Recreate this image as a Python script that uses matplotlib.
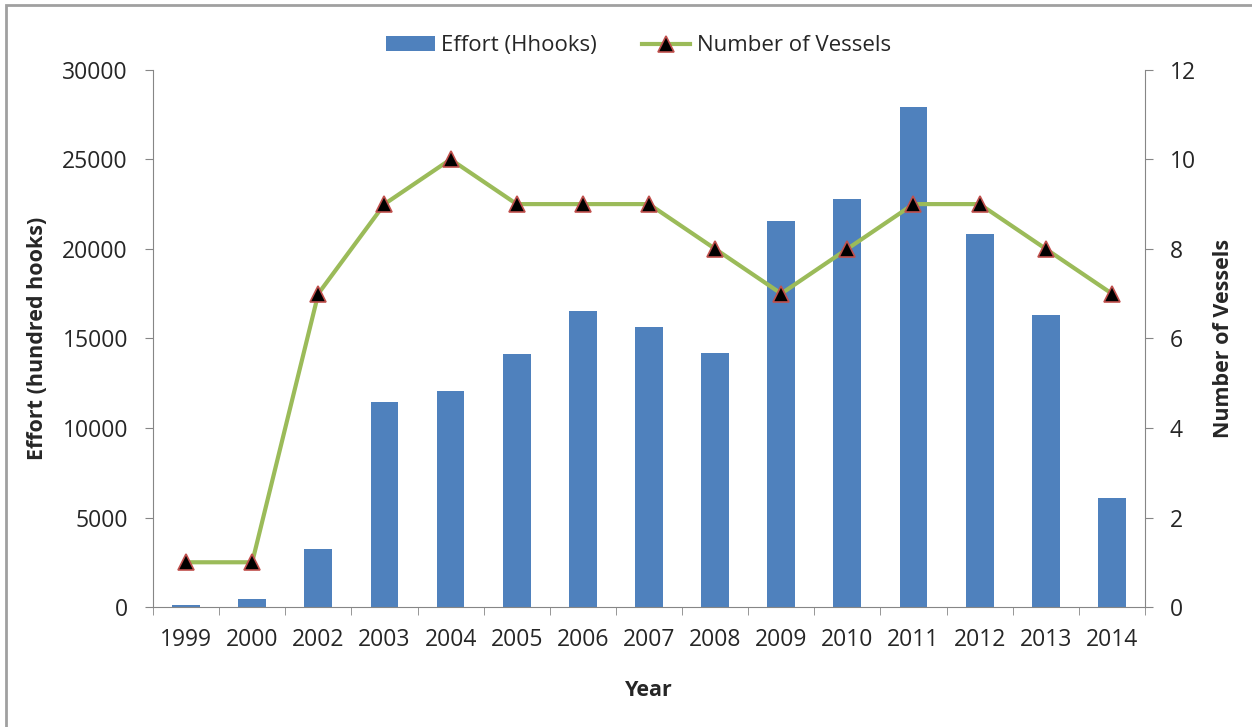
import matplotlib
matplotlib.use("Agg")
import matplotlib.pyplot as plt
from matplotlib.patches import Rectangle
import numpy as np

years = ['1999', '2000', '2002', '2003', '2004', '2005', '2006', '2007',
         '2008', '2009', '2010', '2011', '2012', '2013', '2014']
effort = [100, 450, 3240, 11450, 12050, 14150, 16550, 15650,
          14200, 21550, 22800, 27900, 20850, 16300, 6100]
vessels = [1, 1, 7, 9, 10, 9, 9, 9, 8, 7, 8, 9, 9, 8, 7]

plt.rcParams['font.family'] = ['Open Sans', 'DejaVu Sans']
grey = '#868686'
txt = '#262626'

fig = plt.figure(figsize=(12.52, 7.27), dpi=100)
fig.patches.append(Rectangle((0.005, -0.1), 1.2, 1.093, transform=fig.transFigure,
                             fill=False, edgecolor='#a0a0a0', linewidth=2))

ax = fig.add_axes([0.1222, 0.165, 0.7923, 0.739])
x = np.arange(len(years))
bars = ax.bar(x, effort, width=0.42, color='#4f81bd', label='Effort (Hhooks)', zorder=2)
ax.set_xlim(-0.5, len(years) - 0.5)
ax.set_ylim(0, 30000)
ax.set_yticks(range(0, 30001, 5000))
ax.set_xticks(x)
ax.set_xticklabels(years)
ax.set_xticks(np.arange(-0.5, len(years)), minor=True)
ax.tick_params(axis='x', which='major', length=0, pad=15, labelsize=16.5, labelcolor=txt)
ax.tick_params(axis='x', which='minor', length=6, color=grey, direction='out')
ax.tick_params(axis='y', length=6, color=grey, labelsize=16.5, labelcolor=txt, pad=12)
for s in ['top', 'right']:
    ax.spines[s].set_visible(False)
for s in ['left', 'bottom']:
    ax.spines[s].set_color(grey)
ax.set_xlabel('Year', fontsize=15.5, fontweight='bold', color=txt, labelpad=20)
ax.set_ylabel('Effort (hundred hooks)', fontsize=15.5, fontweight='bold', color=txt, labelpad=10)

ax2 = ax.twinx()
line, = ax2.plot(x, vessels, color='#9bbb59', linewidth=3, marker='^', markersize=11,
                 markerfacecolor='black', markeredgecolor='#c0504d', markeredgewidth=1.2,
                 label='Number of Vessels', zorder=3)
ax2.set_ylim(0, 12)
ax2.set_yticks(range(0, 13, 2))
ax2.tick_params(axis='y', length=6, color=grey, labelsize=16.5, labelcolor=txt, pad=12)
for s in ['top', 'left', 'bottom']:
    ax2.spines[s].set_visible(False)
ax2.spines['right'].set_color(grey)
ax2.set_ylabel('Number of Vessels', fontsize=15.5, fontweight='bold', color=txt, labelpad=12)

fig.legend([bars, line], ['Effort (Hhooks)', 'Number of Vessels'], loc='center',
           bbox_to_anchor=(0.51, 0.937), ncol=2, frameon=False, fontsize=16,
           handlelength=2.2, handletextpad=0.3, columnspacing=2.0, labelcolor=txt)

fig.savefig('out.png', dpi=100)
